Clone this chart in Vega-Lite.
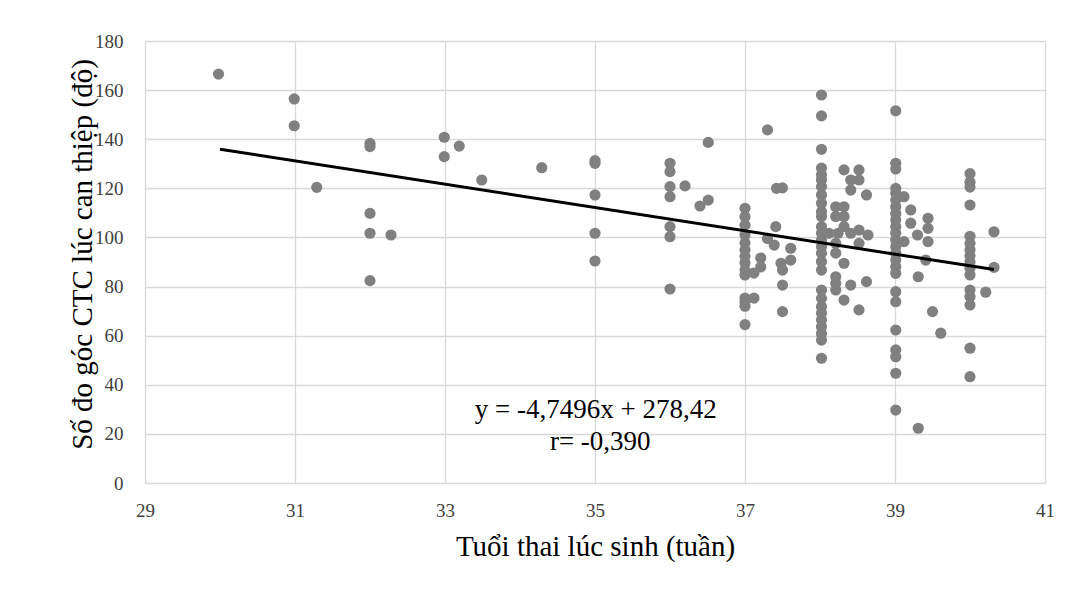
{
  "$schema": "https://vega.github.io/schema/vega-lite/v6.json",
  "width": 900,
  "height": 442,
  "autosize": {"type": "none"},
  "padding": {"left": 145, "top": 41, "right": 42, "bottom": 111},
  "background": "white",
  "config": {
    "view": {"stroke": null},
    "style": {
      "guide-label": {"font": "Liberation Serif", "fontSize": 19, "fill": "#404040"},
      "guide-title": {"font": "Liberation Serif", "fontSize": 29, "fontWeight": "normal", "fill": "#000000"}
    }
  },
  "datasets": {
    "pts": [
      {"tuan": 29.98, "goc": 166.5},
      {"tuan": 30.99, "goc": 156.4},
      {"tuan": 30.99, "goc": 145.5},
      {"tuan": 31.29, "goc": 120.4},
      {"tuan": 32.0, "goc": 138.3},
      {"tuan": 32.0, "goc": 137.0},
      {"tuan": 32.0, "goc": 109.8},
      {"tuan": 32.0, "goc": 101.7},
      {"tuan": 32.28, "goc": 101.0},
      {"tuan": 32.0, "goc": 82.4},
      {"tuan": 32.99, "goc": 140.8},
      {"tuan": 33.19, "goc": 137.2},
      {"tuan": 32.99, "goc": 132.9},
      {"tuan": 33.49, "goc": 123.4},
      {"tuan": 34.29, "goc": 128.4},
      {"tuan": 35.0, "goc": 131.3},
      {"tuan": 35.0, "goc": 130.2},
      {"tuan": 35.0, "goc": 117.3},
      {"tuan": 35.0, "goc": 101.7},
      {"tuan": 35.0, "goc": 90.4},
      {"tuan": 36.0, "goc": 130.2},
      {"tuan": 36.0, "goc": 126.8},
      {"tuan": 36.0, "goc": 120.7},
      {"tuan": 36.0, "goc": 116.6},
      {"tuan": 36.0, "goc": 104.4},
      {"tuan": 36.0, "goc": 100.3},
      {"tuan": 36.0, "goc": 79.0},
      {"tuan": 36.2, "goc": 121.0},
      {"tuan": 36.4, "goc": 112.8},
      {"tuan": 36.51, "goc": 115.2},
      {"tuan": 36.51, "goc": 138.7},
      {"tuan": 37.0, "goc": 111.9},
      {"tuan": 37.0, "goc": 108.5},
      {"tuan": 37.0, "goc": 105.0},
      {"tuan": 37.0, "goc": 101.0},
      {"tuan": 37.0, "goc": 97.7},
      {"tuan": 37.0, "goc": 94.9},
      {"tuan": 37.0, "goc": 92.3},
      {"tuan": 37.0, "goc": 89.6},
      {"tuan": 37.0, "goc": 86.7},
      {"tuan": 37.0, "goc": 84.7},
      {"tuan": 37.0, "goc": 75.3},
      {"tuan": 37.0, "goc": 73.8},
      {"tuan": 37.0, "goc": 72.0},
      {"tuan": 37.0, "goc": 64.5},
      {"tuan": 37.12, "goc": 85.5},
      {"tuan": 37.12, "goc": 75.3},
      {"tuan": 37.21, "goc": 91.6},
      {"tuan": 37.21, "goc": 88.0},
      {"tuan": 37.3, "goc": 143.8},
      {"tuan": 37.42, "goc": 120.0},
      {"tuan": 37.5, "goc": 120.2},
      {"tuan": 37.3, "goc": 99.6},
      {"tuan": 37.41, "goc": 104.4},
      {"tuan": 37.39, "goc": 96.9},
      {"tuan": 37.48, "goc": 89.5},
      {"tuan": 37.5, "goc": 86.7},
      {"tuan": 37.61, "goc": 95.6},
      {"tuan": 37.61, "goc": 90.8},
      {"tuan": 37.5, "goc": 80.6},
      {"tuan": 37.5, "goc": 69.8},
      {"tuan": 38.02, "goc": 158.0},
      {"tuan": 38.02, "goc": 149.5},
      {"tuan": 38.02, "goc": 135.9},
      {"tuan": 38.02, "goc": 128.2},
      {"tuan": 38.02, "goc": 125.4},
      {"tuan": 38.02, "goc": 123.4},
      {"tuan": 38.02, "goc": 120.7},
      {"tuan": 38.02, "goc": 117.3},
      {"tuan": 38.02, "goc": 113.9},
      {"tuan": 38.02, "goc": 110.5},
      {"tuan": 38.02, "goc": 108.5},
      {"tuan": 38.02, "goc": 104.4},
      {"tuan": 38.02, "goc": 101.7},
      {"tuan": 38.02, "goc": 99.0},
      {"tuan": 38.02, "goc": 96.3},
      {"tuan": 38.02, "goc": 93.6},
      {"tuan": 38.02, "goc": 90.2},
      {"tuan": 38.02, "goc": 86.7},
      {"tuan": 38.02, "goc": 78.6},
      {"tuan": 38.02, "goc": 75.2},
      {"tuan": 38.02, "goc": 71.8},
      {"tuan": 38.02, "goc": 69.1},
      {"tuan": 38.02, "goc": 66.4},
      {"tuan": 38.02, "goc": 63.6},
      {"tuan": 38.02, "goc": 60.9},
      {"tuan": 38.02, "goc": 58.2},
      {"tuan": 38.02, "goc": 50.8},
      {"tuan": 38.32, "goc": 127.5},
      {"tuan": 38.52, "goc": 127.5},
      {"tuan": 38.41, "goc": 123.4},
      {"tuan": 38.52, "goc": 123.4},
      {"tuan": 38.41, "goc": 119.3},
      {"tuan": 38.62, "goc": 117.3},
      {"tuan": 38.21, "goc": 112.5},
      {"tuan": 38.32, "goc": 112.5},
      {"tuan": 38.21, "goc": 108.5},
      {"tuan": 38.32, "goc": 108.5},
      {"tuan": 38.12, "goc": 101.7},
      {"tuan": 38.24, "goc": 101.7},
      {"tuan": 38.32, "goc": 104.4},
      {"tuan": 38.41, "goc": 101.7},
      {"tuan": 38.52, "goc": 103.0},
      {"tuan": 38.64, "goc": 101.0},
      {"tuan": 38.52, "goc": 97.6},
      {"tuan": 38.21, "goc": 97.6},
      {"tuan": 38.21, "goc": 93.6},
      {"tuan": 38.32, "goc": 89.5},
      {"tuan": 38.21, "goc": 84.0},
      {"tuan": 38.21, "goc": 81.3},
      {"tuan": 38.21, "goc": 78.6},
      {"tuan": 38.41, "goc": 80.6},
      {"tuan": 38.62, "goc": 82.0},
      {"tuan": 38.32, "goc": 74.5},
      {"tuan": 38.52, "goc": 70.5},
      {"tuan": 39.01, "goc": 151.6},
      {"tuan": 39.01, "goc": 130.2},
      {"tuan": 39.01, "goc": 127.9},
      {"tuan": 39.01, "goc": 120.0},
      {"tuan": 39.01, "goc": 118.0},
      {"tuan": 39.01, "goc": 115.2},
      {"tuan": 39.01, "goc": 112.5},
      {"tuan": 39.01, "goc": 109.8},
      {"tuan": 39.01, "goc": 107.1},
      {"tuan": 39.01, "goc": 104.4},
      {"tuan": 39.01, "goc": 101.7},
      {"tuan": 39.01, "goc": 99.0},
      {"tuan": 39.01, "goc": 96.3},
      {"tuan": 39.01, "goc": 93.6},
      {"tuan": 39.01, "goc": 90.8},
      {"tuan": 39.01, "goc": 88.1},
      {"tuan": 39.01, "goc": 85.4},
      {"tuan": 39.01, "goc": 77.9},
      {"tuan": 39.01, "goc": 73.8},
      {"tuan": 39.01, "goc": 62.3},
      {"tuan": 39.01, "goc": 54.2},
      {"tuan": 39.01, "goc": 51.4},
      {"tuan": 39.01, "goc": 44.7},
      {"tuan": 39.01, "goc": 29.7},
      {"tuan": 39.12, "goc": 116.6},
      {"tuan": 39.21, "goc": 111.2},
      {"tuan": 39.21, "goc": 105.8},
      {"tuan": 39.12, "goc": 98.3},
      {"tuan": 39.3, "goc": 101.0},
      {"tuan": 39.44, "goc": 107.8},
      {"tuan": 39.44, "goc": 103.7},
      {"tuan": 39.44, "goc": 98.3},
      {"tuan": 39.41, "goc": 90.8},
      {"tuan": 39.31, "goc": 84.0},
      {"tuan": 39.5, "goc": 69.8},
      {"tuan": 39.61, "goc": 61.0},
      {"tuan": 39.31, "goc": 22.3},
      {"tuan": 40.0, "goc": 126.0},
      {"tuan": 40.0, "goc": 122.5},
      {"tuan": 40.0, "goc": 120.5},
      {"tuan": 40.0, "goc": 113.2},
      {"tuan": 40.0, "goc": 100.5},
      {"tuan": 40.0, "goc": 97.6},
      {"tuan": 40.0, "goc": 95.0},
      {"tuan": 40.0, "goc": 92.5},
      {"tuan": 40.0, "goc": 90.0},
      {"tuan": 40.0, "goc": 87.5},
      {"tuan": 40.0, "goc": 84.7},
      {"tuan": 40.0, "goc": 78.6},
      {"tuan": 40.0, "goc": 75.9},
      {"tuan": 40.0, "goc": 72.5},
      {"tuan": 40.0, "goc": 54.9},
      {"tuan": 40.0, "goc": 43.3},
      {"tuan": 40.21, "goc": 77.7},
      {"tuan": 40.32, "goc": 87.8},
      {"tuan": 40.32, "goc": 102.3}
    ],
    "trend": [
      {"tuan": 30.0, "goc": 135.93},
      {"tuan": 40.32, "goc": 86.91}
    ],
    "notes": [
      {"tuan": 35.01, "goc": 29.8, "nhan": "y = -4,7496x + 278,42"},
      {"tuan": 35.07, "goc": 16.8, "nhan": "r= -0,390"}
    ]
  },
  "layer": [
    {
      "data": {"name": "pts"},
      "mark": {"type": "circle", "size": 125, "color": "#808080", "opacity": 1},
      "encoding": {
        "x": {
          "field": "tuan",
          "type": "quantitative",
          "scale": {"domain": [29, 41], "nice": false, "zero": false},
          "axis": {
            "values": [29, 31, 33, 35, 37, 39, 41], "format": "d",
            "title": "Tuổi thai lúc sinh (tuần)",
            "domain": false, "ticks": false, "grid": true, "gridColor": "#d9d9d9", "gridWidth": 1.3,
            "labelFlush": false, "labelOverlap": false,
            "labelFont": "Liberation Serif", "labelFontSize": 19, "labelColor": "#404040", "labelPadding": 18,
            "titleFont": "Liberation Serif", "titleFontSize": 29, "titleFontWeight": "normal", "titleColor": "#000000", "titlePadding": 12
          }
        },
        "y": {
          "field": "goc",
          "type": "quantitative",
          "scale": {"domain": [0, 180], "nice": false},
          "axis": {
            "values": [0, 20, 40, 60, 80, 100, 120, 140, 160, 180], "format": "d",
            "title": "Số đo góc CTC lúc can thiệp (độ)",
            "domain": false, "ticks": false, "grid": true, "gridColor": "#d9d9d9", "gridWidth": 1.3,
            "labelFlush": false, "labelOverlap": false,
            "labelFont": "Liberation Serif", "labelFontSize": 19, "labelColor": "#404040", "labelPadding": 22,
            "titleFont": "Liberation Serif", "titleFontSize": 29, "titleFontWeight": "normal", "titleColor": "#000000",
            "titleX": -63, "titleY": 213, "titleBaseline": "middle", "titleAngle": -90
          }
        }
      }
    },
    {
      "data": {"name": "trend"},
      "mark": {"type": "line", "color": "#000000", "strokeWidth": 3},
      "encoding": {
        "x": {"field": "tuan", "type": "quantitative"},
        "y": {"field": "goc", "type": "quantitative"}
      }
    },
    {
      "data": {"name": "notes"},
      "mark": {"type": "text", "font": "Liberation Serif", "fontSize": 27, "color": "#000000", "align": "center", "baseline": "middle"},
      "encoding": {
        "x": {"field": "tuan", "type": "quantitative"},
        "y": {"field": "goc", "type": "quantitative"},
        "text": {"field": "nhan"}
      }
    }
  ]
}
